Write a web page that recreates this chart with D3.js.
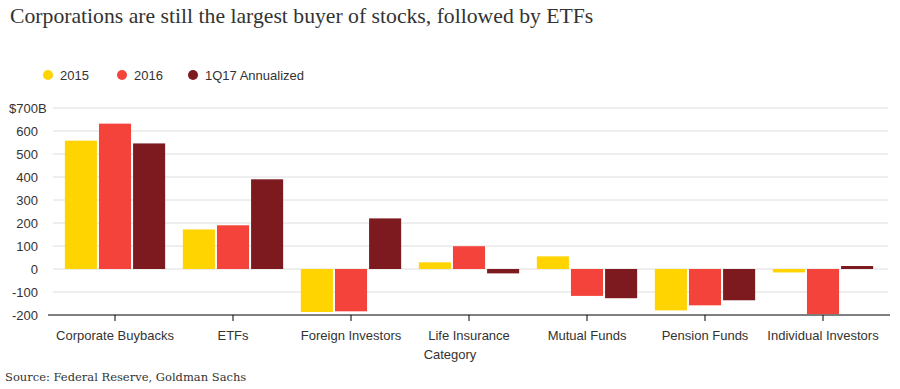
<!DOCTYPE html>
<html>
<head>
<meta charset="utf-8">
<script src="https://cdn.jsdelivr.net/npm/d3@7"></script>
<style>
    body { margin: 0; background: #fff; }
    svg text { font-family: "Liberation Sans", Arial, sans-serif; }
</style>
</head>
<body>
<div id="chart"></div>
<script>
    var categories = ['Corporate Buybacks', 'ETFs', 'Foreign Investors', 'Life Insurance',
        'Mutual Funds', 'Pension Funds', 'Individual Investors'];
    var seriesNames = ['2015', '2016', '1Q17 Annualized'];
    var values2015 = [558, 172, -187, 29, 55, -180, -15];
    var values2016 = [632, 190, -184, 99, -117, -158, -196];
    var values1Q17 = [546, 390, 220, -19, -127, -136, 13];
    var yTicks = [-200, -100, 0, 100, 200, 300, 400, 500, 600, 700];
    var colors = ['#ffd400', '#f4433b', '#7d1a1f'];

    var width = 900;
    var height = 389;
    var series = [values2015, values2016, values1Q17];

    var svg = d3.select('#chart').append('svg')
        .attr('width', width)
        .attr('height', height);

    svg.append('text')
        .attr('x', 10)
        .attr('y', 23)
        .style('font-family', '"Liberation Serif", "DejaVu Serif", serif')
        .style('font-size', '21.7px')
        .style('fill', '#333')
        .text('Corporations are still the largest buyer of stocks, followed by ETFs');

    // legend
    var legend = svg.append('g').attr('class', 'legend');
    var legendX = [48, 122, 193];
    seriesNames.forEach(function (name, i) {
        legend.append('circle')
            .attr('cx', legendX[i])
            .attr('cy', 75)
            .attr('r', 5)
            .style('fill', colors[i]);
        legend.append('text')
            .attr('x', legendX[i] + 12)
            .attr('y', 75)
            .attr('dy', '0.35em')
            .style('font-size', '13px')
            .style('fill', '#333')
            .text(name);
    });

    var x0 = d3.scaleBand()
        .domain(categories)
        .range([56, 882])
        .paddingInner(0.15)
        .paddingOuter(0.075);

    var x1 = d3.scaleBand()
        .domain(d3.range(seriesNames.length))
        .range([0, x0.bandwidth()])
        .paddingInner(0.06);

    var y = d3.scaleLinear()
        .domain([-200, 700])
        .range([315, 108]);

    // grid
    svg.append('g')
        .attr('class', 'grid')
        .selectAll('line')
        .data(yTicks.slice(1))
        .enter().append('line')
        .attr('x1', 53)
        .attr('x2', 888)
        .attr('y1', function (d) { return y(d); })
        .attr('y2', function (d) { return y(d); })
        .style('stroke', '#dedede')
        .style('stroke-width', 1);

    // y labels
    var yLabels = svg.append('g').attr('class', 'y axis');
    yTicks.forEach(function (t) {
        var label = yLabels.append('text')
            .attr('x', 38)
            .attr('y', y(t))
            .attr('dy', '0.35em')
            .attr('text-anchor', 'end')
            .style('font-size', '13px')
            .style('fill', '#333')
            .text(t);
        if (t === 700) {
            var w = label.node().getComputedTextLength();
            yLabels.append('text')
                .attr('x', 38 - w)
                .attr('y', y(t))
                .attr('dy', '0.35em')
                .attr('text-anchor', 'end')
                .style('font-size', '13px')
                .style('fill', '#333')
                .text('$');
            yLabels.append('text')
                .attr('x', 38)
                .attr('y', y(t))
                .attr('dy', '0.35em')
                .style('font-size', '13px')
                .style('fill', '#333')
                .text('B');
        }
    });

    // bars
    var groups = svg.append('g')
        .attr('class', 'bars')
        .selectAll('g')
        .data(categories)
        .enter().append('g')
        .attr('transform', function (d) { return 'translate(' + x0(d) + ',0)'; });

    groups.selectAll('rect')
        .data(function (d, ci) {
            return series.map(function (s, si) { return {series: si, value: s[ci]}; });
        })
        .enter().append('rect')
        .attr('x', function (d) { return x1(d.series); })
        .attr('width', x1.bandwidth())
        .attr('y', function (d) { return y(Math.max(0, d.value)); })
        .attr('height', function (d) { return Math.abs(y(d.value) - y(0)); })
        .style('fill', function (d) { return colors[d.series]; });

    // bottom axis
    var xAxis = svg.append('g')
        .attr('class', 'x axis')
        .attr('transform', 'translate(0,315)');

    xAxis.append('line')
        .attr('x1', 48)
        .attr('x2', 890)
        .style('stroke', '#000')
        .style('stroke-width', 1.2);

    var ticks = xAxis.selectAll('g.tick')
        .data(categories)
        .enter().append('g')
        .attr('class', 'tick')
        .attr('transform', function (d) {
            return 'translate(' + (x0(d) + x0.bandwidth() / 2) + ',0)';
        });

    ticks.append('line')
        .attr('y2', 6)
        .style('stroke', '#000');

    ticks.append('text')
        .attr('y', 20)
        .attr('dy', '0.35em')
        .attr('text-anchor', 'middle')
        .style('font-size', '13px')
        .style('fill', '#333')
        .text(function (d) { return d; });

    svg.append('text')
        .attr('x', 450)
        .attr('y', 354)
        .attr('dy', '0.35em')
        .attr('text-anchor', 'middle')
        .style('font-size', '13px')
        .style('fill', '#333')
        .text('Category');

    svg.append('text')
        .attr('x', 5)
        .attr('y', 377)
        .attr('dy', '0.35em')
        .style('font-family', '"DejaVu Serif", "Liberation Serif", serif')
        .style('font-size', '11.5px')
        .style('fill', '#333')
        .text('Source: Federal Reserve, Goldman Sachs');
</script>
</body>
</html>
